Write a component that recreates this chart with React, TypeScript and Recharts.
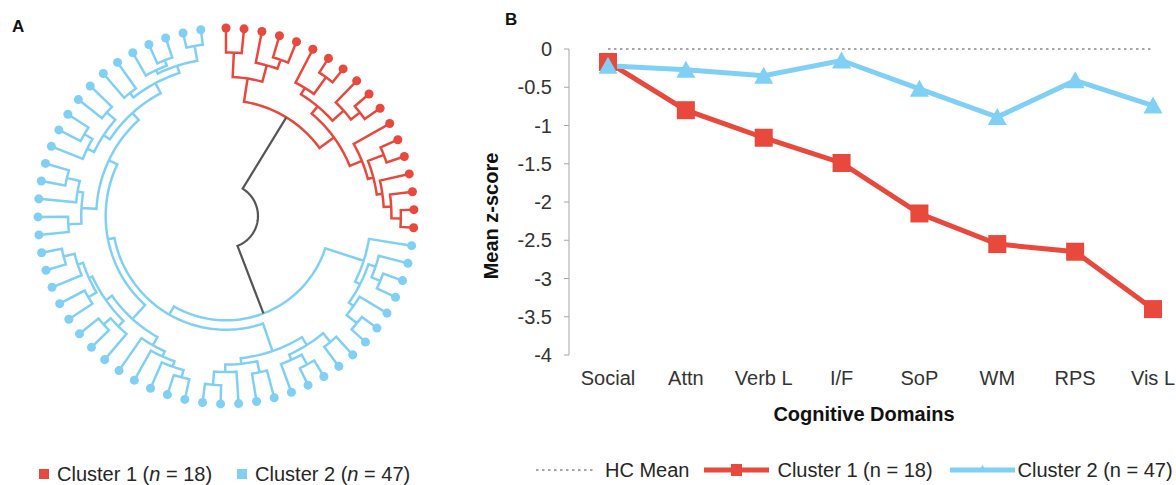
import React from "react";
import { ComposedChart, LineChart, Line, Scatter, XAxis, YAxis, Legend } from "recharts";

const FONT = "'Liberation Sans', Arial, Helvetica, sans-serif";
const RED = "#E8493C";
const BLUE = "#80D0F5";
const GREY = "#A6A6A6";
const INK = "#262626";

// ---------- panel A: circular dendrogram ----------
const clusterLabels = ["Cluster 1", "Cluster 2"];
const clusterSizes = [18, 47];
const clusterColors = [RED, BLUE];

// merges as [linkage distance, left, right]; integers are leaves in plotted order
// (leaf 0 at 12 o'clock, going clockwise)
const cluster1Merges = [3.85,
  [2.6, [1.3, 0, 1], [1.7, 2, [1.2, 3, 4]]],
  [2.9,
    [2.4, [2.0, 5, [0.9, 6, 7]], [1.6, 8, [1.0, 9, 10]]],
    [2.2, 11, [1.9, [1.0, 12, 13], [1.6, 14, [1.2, 15, [0.7, 16, 17]]]]]]];

const cluster2Merges = [4.45,
  [2.3, 18, [2.0, [1.6, 19, [1.1, 20, 21]], [1.7, 22, [1.0, 23, 24]]]],
  [3.95,
    [2.4, [1.9, [1.3, 25, 26], [1.6, [1.0, 27, 28], 29]], [2.1, [1.5, 30, 31], [1.7, 32, [1.0, 33, 34]]]],
    [3.6,
      [2.6,
        [2.1, [1.8, [1.5, [1.1, 35, 36], 37], 38], 39],
        [2.2, [1.8, 40, [1.3, 41, 42]], [2.0, [1.5, 43, 44], [1.7, 45, [1.1, 46, 47]]]]],
      [3.1,
        [2.3, [1.6, 48, 49], [2.0, 50, [1.3, 51, 52]]],
        [2.6,
          [2.2, [1.8, 53, [1.3, 54, 55]], [1.6, 56, 57]],
          [2.0, [1.7, 58, 59], [1.6, [1.4, 60, [1.1, 61, 62]], [0.8, 63, 64]]]]]]]];

const rootDistance = 8.3;
const leafCount = 65;

// ---------- panel B: line chart ----------
const domains = ["Social", "Attn", "Verb L", "I/F", "SoP", "WM", "RPS", "Vis L"];
const hcMean = [0, 0, 0, 0, 0, 0, 0, 0];
const cluster1 = [-0.17, -0.8, -1.16, -1.49, -2.15, -2.55, -2.65, -3.4];
const cluster2 = [-0.22, -0.27, -0.35, -0.15, -0.52, -0.89, -0.41, -0.74];
const yTicks = [0, -0.5, -1, -1.5, -2, -2.5, -3, -3.5, -4];
const seriesOrder = ["hc", "c1", "c2"];

const rows = domains.map((d, i) => ({ domain: d, hc: hcMean[i], c1: cluster1[i], c2: cluster2[i] }));

// polar layout of the dendrogram (leaf radius = 1)
const ANGLE_STEP = 360 / (leafCount + 0.4);
const INNER_R = 0.17;
const radiusOf = (d: number) => 1 - (d / rootDistance) * (1 - INNER_R);
const toXY = (r: number, deg: number) => {
  const t = (deg * Math.PI) / 180;
  return { x: r * Math.sin(t), y: r * Math.cos(t) };
};

function place(node: any): any {
  if (typeof node === "number") return { angle: node * ANGLE_STEP, r: 1 };
  const [d, a, b] = node;
  const L = place(a);
  const R = place(b);
  return { angle: (L.angle + R.angle) / 2, r: radiusOf(d), kids: [L, R] };
}

function bracket(n: any, out: any[]) {
  const [L, R] = n.kids;
  out.push(toXY(L.r, L.angle));
  const steps = Math.max(1, Math.ceil((R.angle - L.angle) / 1.5));
  for (let k = 0; k <= steps; k++) out.push(toXY(n.r, L.angle + ((R.angle - L.angle) * k) / steps));
  const end = toXY(R.r, R.angle);
  out.push(end);
  out.push({ x: end.x, y: null });
}

function walk(n: any, links: any[], leaves: any[]) {
  if (!n.kids) {
    leaves.push(toXY(1, n.angle));
    return;
  }
  bracket(n, links);
  n.kids.forEach((k: any) => walk(k, links, leaves));
}

const tree = place([rootDistance, cluster1Merges, cluster2Merges]);
const rootLinks: any[] = [];
bracket(tree, rootLinks);
const groups = tree.kids.map((k: any) => {
  const links: any[] = [];
  const leaves: any[] = [];
  walk(k, links, leaves);
  return { links, leaves };
});

const D = 1.117;

const ClusterLegend = ({ payload }: any) => {
  const items = (payload || [])
    .filter((p: any) => p.type !== "none")
    .sort((a: any, b: any) => clusterLabels.indexOf(a.value) - clusterLabels.indexOf(b.value));
  return (
    <div style={{ height: 59, display: "flex", alignItems: "flex-end", fontFamily: FONT, fontSize: 20, color: INK, whiteSpace: "nowrap" }}>
      {items.map((p: any, i: number) => {
        const idx = clusterLabels.indexOf(p.value);
        return (
          <div key={p.value} style={{ display: "flex", alignItems: "center", height: 22, marginLeft: i === 0 ? 23 : 25 }}>
            <span style={{ width: 10, height: 10, background: p.color, marginRight: 8, display: "inline-block" }} />
            <span>
              {p.value} (<i>n</i> = {clusterSizes[idx]})
            </span>
          </div>
        );
      })}
    </div>
  );
};

const legendIcon = (key: string, color: string) => {
  if (key === "hc")
    return (
      <svg width={60} height={20}>
        <line x1={1} y1={10} x2={60} y2={10} stroke={GREY} strokeWidth={2} strokeDasharray="2.5 3.5" />
      </svg>
    );
  return (
    <svg width={65} height={20}>
      <line x1={0} y1={10} x2={65} y2={10} stroke={color} strokeWidth={5} />
      {key === "c1" ? (
        <rect x={27} y={4} width={11} height={12} fill={color} />
      ) : (
        <polygon points="32.5,5 37,12 28,12" fill={color} />
      )}
    </svg>
  );
};

const gaps: Record<string, [number, number]> = { hc: [55, 10], c1: [15, 8], c2: [17, 3] };

const DomainLegend = ({ payload }: any) => {
  const items = [...(payload || [])].sort(
    (a: any, b: any) => seriesOrder.indexOf(a.dataKey) - seriesOrder.indexOf(b.dataKey)
  );
  return (
    <div style={{ height: 30, display: "flex", alignItems: "center", fontFamily: FONT, fontSize: 20, color: INK, whiteSpace: "nowrap" }}>
      {items.map((p: any) => (
        <div key={p.dataKey} style={{ display: "flex", alignItems: "center", marginLeft: gaps[p.dataKey][0] }}>
          {legendIcon(p.dataKey, p.color)}
          <span style={{ marginLeft: gaps[p.dataKey][1] }}>{p.value}</span>
        </div>
      ))}
    </div>
  );
};

const YTitle = ({ viewBox, value }: any) => {
  const cx = viewBox.x + 11;
  const cy = viewBox.y + viewBox.height / 2 + 14;
  return (
    <text x={cx} y={cy} transform={`rotate(-90 ${cx} ${cy})`} textAnchor="middle" dominantBaseline="central"
      fontFamily={FONT} fontSize={20} fontWeight="bold" fill="#111">
      {value}
    </text>
  );
};

const XTitle = ({ viewBox, value }: any) => (
  <text x={viewBox.x + viewBox.width / 2 - 7} y={viewBox.y + 66} textAnchor="middle"
    fontFamily={FONT} fontSize={20} fontWeight="bold" fill="#111">
    {value}
  </text>
);

const SquareDot = (p: any) => {
  if (p.cx == null || p.cy == null) return null;
  return <rect key={`sq-${p.index}`} x={p.cx - 9} y={p.cy - 9} width={18} height={18} fill={RED} />;
};

const TriangleDot = (p: any) => {
  if (p.cx == null || p.cy == null) return null;
  const { cx, cy } = p;
  return <polygon key={`tr-${p.index}`} points={`${cx},${cy - 9} ${cx + 9.5},${cy + 8} ${cx - 9.5},${cy + 8}`} fill={BLUE} />;
};

const tickStyle = { fontSize: 20, fill: "#333", fontFamily: FONT };

export default function App() {
  return (
    <div style={{ position: "absolute", left: 0, top: 0, width: 1176, height: 485, background: "#fff", overflow: "hidden" }}>
      <div style={{ position: "absolute", left: 12, top: 17, fontFamily: FONT, fontWeight: "bold", fontSize: 17, color: "#111" }}>A</div>
      <div style={{ position: "absolute", left: 505, top: 10, fontFamily: FONT, fontWeight: "bold", fontSize: 17, color: "#111" }}>B</div>

      <div style={{ position: "absolute", left: 16, top: 0 }}>
        <ComposedChart width={420} height={485} margin={{ top: 6, right: 0, bottom: 0, left: 0 }}>
          <XAxis type="number" dataKey="x" domain={[-D, D]} hide allowDataOverflow />
          <YAxis type="number" dataKey="y" domain={[-D, D]} hide allowDataOverflow />
          {groups.map((g: any, i: number) => (
            <Line key={`l${i}`} data={g.links} dataKey="y" stroke={clusterColors[i]} strokeWidth={2.5}
              dot={false} activeDot={false} legendType="none" isAnimationActive={false} />
          ))}
          <Line data={rootLinks} dataKey="y" stroke="#555" strokeWidth={2.2} dot={false} activeDot={false}
            legendType="none" isAnimationActive={false} />
          {groups.map((g: any, i: number) => (
            <Scatter key={`s${i}`} name={clusterLabels[i]} data={g.leaves} fill={clusterColors[i]}
              legendType="square" isAnimationActive={false} />
          ))}
          <Legend verticalAlign="bottom" content={<ClusterLegend />} />
        </ComposedChart>
      </div>

      <div style={{ position: "absolute", left: 480, top: 0 }}>
        <LineChart width={696} height={485} data={rows} margin={{ top: 49, right: 3, bottom: 0, left: 0 }}>
          <XAxis dataKey="domain" scale="point" padding={{ left: 39, right: 20 }} axisLine={false} tickLine={false}
            tickSize={0} tickMargin={16} height={100} interval={0} tick={tickStyle}
            label={<XTitle value="Cognitive Domains" />} />
          <YAxis domain={[-4, 0]} ticks={yTicks} width={89} axisLine={{ stroke: GREY }} tickLine={{ stroke: GREY }}
            tickSize={5} tickMargin={12} tick={tickStyle} label={<YTitle value="Mean z-score" />} />
          <Line dataKey="hc" name="HC Mean" stroke={GREY} strokeWidth={2} strokeDasharray="2.5 3.5" dot={false}
            activeDot={false} isAnimationActive={false} />
          <Line dataKey="c1" name="Cluster 1 (n = 18)" stroke={RED} strokeWidth={5} dot={SquareDot}
            activeDot={false} isAnimationActive={false} />
          <Line dataKey="c2" name="Cluster 2 (n = 47)" stroke={BLUE} strokeWidth={5} dot={TriangleDot}
            activeDot={false} isAnimationActive={false} />
          <Legend verticalAlign="bottom" content={<DomainLegend />} />
        </LineChart>
      </div>
    </div>
  );
}
